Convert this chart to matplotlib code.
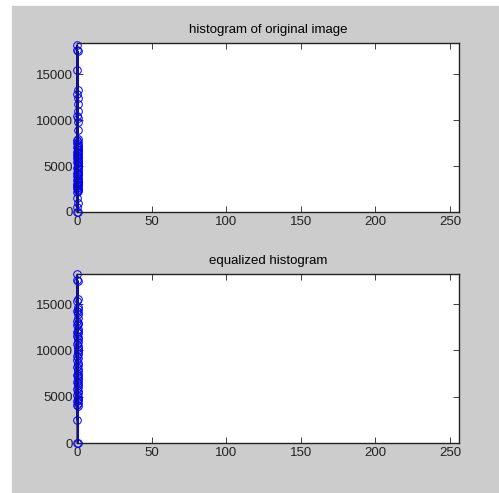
import numpy as np
from matplotlib import pyplot as plt
from matplotlib.patches import Rectangle

# histogram counts (bins sit between 0 and 1)
orig_counts = [0, 18200, 17600, 500, 1500, 3000, 6500, 4200, 7800, 2600,
               5400, 12800, 3500, 7100, 4800, 2200, 6200, 10400, 5900, 3900,
               7500, 2800, 15500, 4500, 6800, 3200, 5100, 9800, 2500, 6000,
               4100, 7300, 13300, 3700, 5600, 2300, 7900, 4300, 6500, 11800,
               3000, 5000, 7000, 2700, 12400, 4700, 6300, 3400, 5800, 8900,
               2900, 6700, 10200, 4000, 5300, 7600, 3600, 17500, 4900, 6100,
               2400, 7200, 11000, 3300, 5500, 1000, 0]
eq_counts = [0, 18200, 17600, 2500, 4500, 12000, 8200, 14300, 5200, 10700,
             6600, 13200, 9400, 4100, 11600, 7300, 15300, 5800, 12700, 9000,
             4800, 10300, 13900, 7800, 6000, 11200, 14700, 8600, 5400, 12300,
             9800, 4300, 13500, 7000, 10900, 6300, 14100, 8000, 11900, 5000,
             9600, 12900, 7500, 15600, 6800, 10500, 4600, 13000, 8400, 11400,
             5600, 9200, 14500, 7200, 12100, 6500, 10000, 17500, 4000, 0]

title_top = 'histogram of original image'
title_bot = 'equalized histogram'
xticks = [0, 50, 100, 150, 200, 250]
yticks = [0, 5000, 10000, 15000]

gray = '#cccccc'
plt.rcParams['font.family'] = ['Liberation Sans Narrow', 'Liberation Sans', 'DejaVu Sans']
plt.rcParams['font.size'] = 9.5

W, H = 499, 493
fig = plt.figure(figsize=(W/100, H/100), dpi=100, facecolor='white')
fig.patches.append(Rectangle((12/W, 0), 1 - 12/W, 1 - 6/H,
                             transform=fig.transFigure, color=gray, zorder=-10))

def box(l, t, r, b):
    return [l/W, 1 - b/H, (r - l)/W, (b - t)/H]

def histplot(ax, counts, title, ytop):
    x = np.linspace(0, 1, len(counts))
    ax.plot(x, counts, '-o', color='blue', lw=0.8, ms=5.5, mfc='none',
            mew=0.7, clip_on=False)
    ax.set_xlim(0, 256)
    ax.set_ylim(0, ytop)
    ax.set_xticks(xticks)
    ax.set_yticks(yticks)
    ax.tick_params(direction='in', top=True, right=True, length=4,
                   width=0.6, colors='#222222', labelsize=9.5, pad=3)
    for s in ax.spines.values():
        s.set_linewidth(1.0)
        s.set_color('#222222')
    ax.set_title(title, fontsize=9.5, pad=7)

ax1 = fig.add_axes(box(77, 43, 459, 212))
histplot(ax1, orig_counts, title_top, 18400)
ax2 = fig.add_axes(box(77, 274, 459, 443))
histplot(ax2, eq_counts, title_bot, 18250)

fig.savefig('out.png', dpi=100, facecolor=fig.get_facecolor())
